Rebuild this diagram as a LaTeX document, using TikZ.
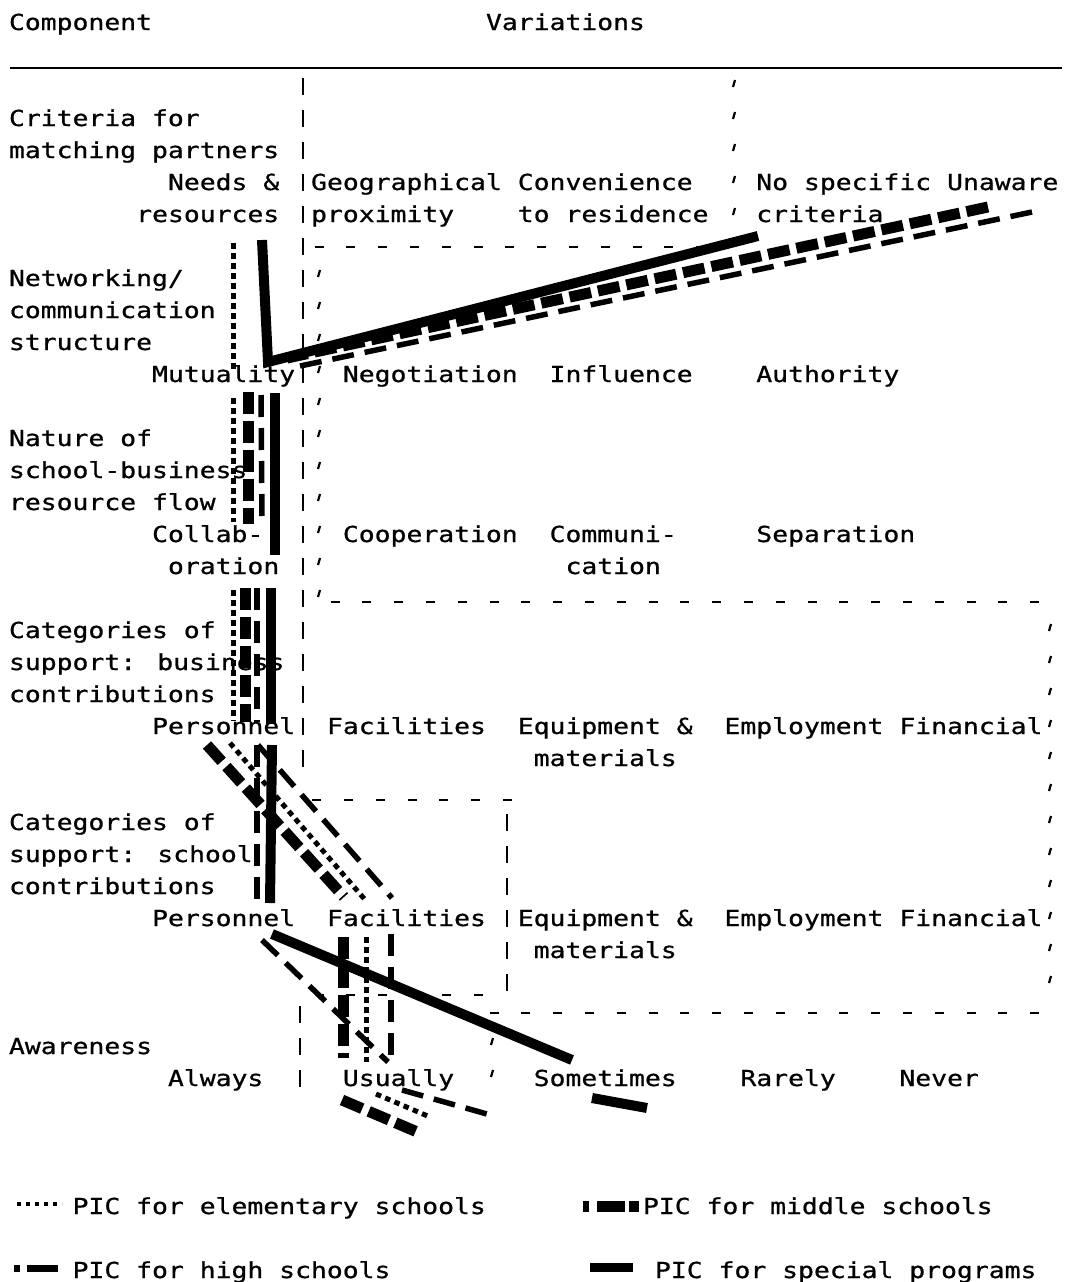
\documentclass[tikz,border=0pt]{standalone}
\usepackage{fontspec}
\newfontfamily\dotfont{DejaVu Sans Mono}[FakeStretch=1.2,FakeBold=0.8]
\tikzset{
  txt/.style={font=\dotfont\fontsize{22}{22}\selectfont, anchor=base west, inner sep=0pt, outer sep=0pt},
  elem/.style={line width=5pt, dash pattern=on 5.5pt off 4.5pt},
  midl/.style={line width=11pt, dash pattern=on 22pt off 7pt},
  high/.style={line width=5.5pt, dash pattern=on 22pt off 11pt},
  spec/.style={line width=10pt},
  gridbar/.style={line width=2pt},
  tick/.style={line width=2.2pt},
  rulebar/.style={line width=2.5pt}
}
% one text line, placed on the character grid: column, row
\newcommand\lbl[4]{\node[txt] (#1) at ({9+15.9*(#2)},{30+32*(#3)}) {#4};}
\begin{document}
\begin{tikzpicture}[x=1pt,y=-1pt]
\fill[white] (0,0) rectangle (1069,1282);
\useasboundingbox (0,0) rectangle (1069,1282);

% ---------- headings and rule
\lbl{comp}{0}{0}{Component}
\lbl{vari}{30}{0}{Variations}
\coordinate (ruleL) at (10,68);
\coordinate (ruleR) at (1062,68);
\draw[rulebar] (ruleL) -- (ruleR);

% ---------- component names and variations
\lbl{critA}{0}{3}{Criteria for}
\lbl{critB}{0}{4}{matching partners}
\lbl{needA}{10}{5}{Needs \&}
\lbl{needB}{8}{6}{resources}
\lbl{geoA}{19}{5}{Geographical}
\lbl{geoB}{19}{6}{proximity}
\lbl{convA}{32}{5}{Convenience}
\lbl{convB}{32}{6}{to residence}
\lbl{nospA}{47}{5}{No specific}
\lbl{nospB}{47}{6}{criteria}
\lbl{unaw}{59}{5}{Unaware}

\lbl{netA}{0}{8}{Networking/}
\lbl{netB}{0}{9}{communication}
\lbl{netC}{0}{10}{structure}
\lbl{mutu}{9}{11}{Mutuality}
\lbl{nego}{21}{11}{Negotiation}
\lbl{infl}{34}{11}{Influence}
\lbl{auth}{47}{11}{Authority}

\lbl{natA}{0}{13}{Nature of}
\lbl{natB}{0}{14}{school-business}
\lbl{natC}{0}{15}{resource flow}
\lbl{collA}{9}{16}{Collab-}
\lbl{collB}{10}{17}{oration}
\lbl{coop}{21}{16}{Cooperation}
\lbl{commA}{34}{16}{Communi-}
\lbl{commB}{35}{17}{cation}
\lbl{sepa}{47}{16}{Separation}

\lbl{bcatA}{0}{19}{Categories of}
\lbl{bcatB}{0}{20}{support: business}
\lbl{bcatC}{0}{21}{contributions}
\lbl{bpers}{9}{22}{Personnel}
\lbl{bfac}{20}{22}{Facilities}
\lbl{beqA}{32}{22}{Equipment \&}
\lbl{beqB}{33}{23}{materials}
\lbl{bemp}{45}{22}{Employment}
\lbl{bfin}{56}{22}{Financial}

\lbl{scatA}{0}{25}{Categories of}
\lbl{scatB}{0}{26}{support: school}
\lbl{scatC}{0}{27}{contributions}
\lbl{spers}{9}{28}{Personnel}
\lbl{sfac}{20}{28}{Facilities}
\lbl{seqA}{32}{28}{Equipment \&}
\lbl{seqB}{33}{29}{materials}
\lbl{semp}{45}{28}{Employment}
\lbl{sfin}{56}{28}{Financial}

\lbl{awar}{0}{32}{Awareness}
\lbl{alwa}{10}{33}{Always}
\lbl{usua}{21}{33}{Usually}
\lbl{some}{33}{33}{Sometimes}
\lbl{rare}{46}{33}{Rarely}
\lbl{neve}{56}{33}{Never}

% ---------- separators typed as | ' and - characters
\foreach \k in {2,...,23} \draw[gridbar] (303,{14+32*\k}) -- (303,{31+32*\k});
\foreach \k in {25,...,30} \draw[gridbar] (507,{14+32*\k}) -- (507,{31+32*\k});
\foreach \k in {31,...,33} \draw[gridbar] (300,{14+32*\k}) -- (300,{31+32*\k});
\foreach \k in {2,...,6} \draw[tick] (735,{16+32*\k}) -- (733,{23+32*\k});
\foreach \k in {8,...,18} \draw[tick] (320,{14+32*\k}) -- (318,{21+32*\k});
\foreach \k in {19,...,30} \draw[tick] (1051,{16+32*\k}) -- (1049,{23+32*\k});
\foreach \k in {32,33} \draw[tick] (493,{14+32*\k}) -- (491,{21+32*\k});
\foreach \c in {19,21,...,43} \draw[gridbar] ({9+15.9*\c+3.5},247) -- ++(9,0);
\foreach \c in {20,22,...,64} \draw[gridbar] ({9+15.9*\c+3.5},602) -- ++(9,0);
\foreach \c in {19,21,...,31} \draw[gridbar] ({9+15.9*\c+1},800) -- ++(9,0);
\foreach \c in {19,21,...,29} \draw[gridbar] ({9+15.9*\c+3.5},995) -- ++(9,0);
\foreach \c in {30,32,...,64} \draw[gridbar] ({9+15.9*\c+3.5},1013) -- ++(9,0);

% ---------- PIC for special programs
\coordinate (s1) at (262,240);
\coordinate (s2) at (268,362);
\coordinate (s3) at (758,236);
\coordinate (s4) at (275,393);
\coordinate (s5) at (275,555);
\coordinate (s6) at (271,588);
\coordinate (s7) at (271,724);
\coordinate (s8) at (272,745);
\coordinate (s9) at (270,903);
\coordinate (s10) at (272,934);
\coordinate (s11) at (572,1060);
\coordinate (s12) at (592,1098);
\coordinate (s13) at (647,1108);
\draw[spec, line join=miter] (s1) -- (s2) -- (s3);
\draw[spec] (s4) -- (s5);
\draw[spec] (s6) -- (s7);
\draw[spec] (s8) -- (s9);
\draw[spec] (s10) -- (s11);
\draw[spec] (s12) -- (s13);

% ---------- PIC for middle schools
\coordinate (m1) at (988,207);
\coordinate (m2) at (287,358);
\coordinate (m3) at (248,392);
\coordinate (m4) at (248,524);
\coordinate (m5) at (245,588);
\coordinate (m6) at (245,722);
\coordinate (m7) at (207,745);
\coordinate (m8) at (344,897);
\coordinate (m9) at (343,937);
\coordinate (m10) at (343,1058);
\coordinate (m11) at (342,1100);
\coordinate (m12) at (422,1134);
\draw[midl] (m1) -- (m2);
\draw[midl] (m3) -- (m4);
\draw[midl] (m5) -- (m6);
\draw[midl] (m7) -- (m8);
\draw[midl] (m9) -- (m10);
\draw[midl] (m11) -- (m12);

% ---------- PIC for high schools
\coordinate (h1) at (1032,212);
\coordinate (h2) at (300,366);
\coordinate (h3) at (261,395);
\coordinate (h4) at (262,524);
\coordinate (h5) at (257,588);
\coordinate (h6) at (257,722);
\coordinate (h7) at (257,745);
\coordinate (h8) at (257,905);
\coordinate (h9) at (258,745);
\coordinate (h10) at (392,898);
\coordinate (h11) at (262,940);
\coordinate (h12) at (388,1062);
\coordinate (h13) at (391,934);
\coordinate (h14) at (391,1056);
\coordinate (h15) at (402,1090);
\coordinate (h16) at (494,1116);
\draw[high] (h1) -- (h2);
\draw[high] (h3) -- (h4);
\draw[high] (h5) -- (h6);
\draw[high] (h7) -- (h8);
\draw[high] (h9) -- (h10);
\draw[high] (h11) -- (h12);
\draw[high] (h13) -- (h14);
\draw[high] (h15) -- (h16);

% ---------- PIC for elementary schools
\coordinate (e1) at (233,243);
\coordinate (e2) at (233,372);
\coordinate (e3) at (233,398);
\coordinate (e4) at (233,522);
\coordinate (e5) at (233,590);
\coordinate (e6) at (233,721);
\coordinate (e7) at (230,743);
\coordinate (e8) at (367,902);
\coordinate (e9) at (366,937);
\coordinate (e10) at (366,1062);
\coordinate (e11) at (376,1094);
\coordinate (e12) at (430,1117);
\draw[elem] (e1) -- (e2);
\draw[elem] (e3) -- (e4);
\draw[elem] (e5) -- (e6);
\draw[elem] (e7) -- (e8);
\draw[elem] (e9) -- (e10);
\draw[elem] (e11) -- (e12);

% ---------- legend
\coordinate (kE1) at (17,1204);
\coordinate (kE2) at (62,1204);
\draw[line width=4pt, dash pattern=on 4pt off 5pt] (kE1) -- (kE2);
\lbl{legE}{4}{37}{PIC for elementary schools}
\coordinate (kM1) at (583,1206);
\coordinate (kM2) at (639,1206);
\draw[line width=11pt, dash pattern=on 6pt off 8pt on 28pt off 4pt on 10pt off 20pt] (kM1) -- (kM2);
\node[txt] (legM) at (643,{30+32*37}) {PIC for middle schools};
\coordinate (kH1) at (14,1268);
\coordinate (kH2) at (58,1268);
\draw[line width=7pt, dash pattern=on 6pt off 7pt on 31pt off 20pt] (kH1) -- (kH2);
\lbl{legH}{4}{39}{PIC for high schools}
\coordinate (kS1) at (590,1267);
\coordinate (kS2) at (633,1267);
\draw[line width=9pt] (kS1) -- (kS2);
\node[txt] (legS) at (655,{30+32*39}) {PIC for special programs};
\end{tikzpicture}
\end{document}
